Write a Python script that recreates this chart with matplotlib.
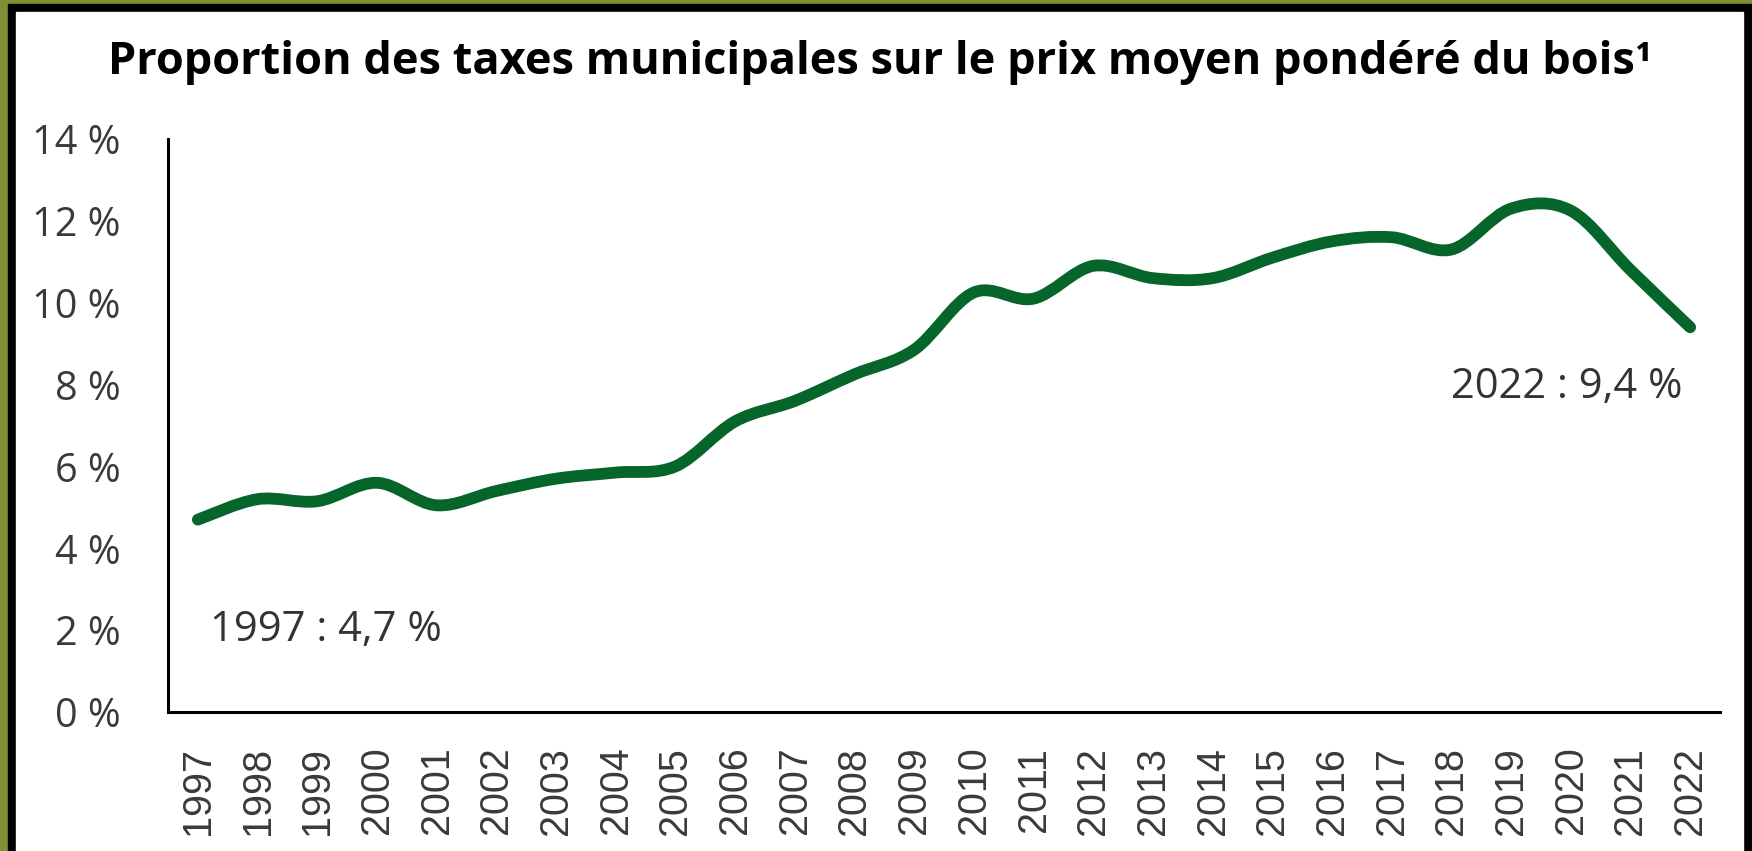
import matplotlib
matplotlib.use("Agg")
from matplotlib import pyplot as plt
from matplotlib.path import Path
from matplotlib.patches import PathPatch, Rectangle

# data
years = [str(y) for y in range(1997, 2023)]
taxes = [4.7, 5.2, 5.15, 5.6, 5.05, 5.4, 5.7, 5.85, 6.0, 7.1, 7.6, 8.25, 8.85,
         10.25, 10.1, 10.9, 10.6, 10.6, 11.1, 11.5, 11.6, 11.3, 12.3, 12.25,
         10.8, 9.4]
yticks = [0, 2, 4, 6, 8, 10, 12, 14]
ytick_labels = ["%d %%" % v for v in yticks]
title = "Proportion des taxes municipales sur le prix moyen pondéré du bois¹"
first_label = "1997 : 4,7 %"
last_label = "2022 : 9,4 %"

GREEN = "#05652b"
GREY = "#3a3a3a"

fig = plt.figure(figsize=(17.52, 8.51), dpi=100, facecolor="#7f8f32")
# black frame + white panel
fig.patches.append(Rectangle((8 / 1752, 0), 1 - 8 / 1752, 1 - 4 / 851,
                             transform=fig.transFigure, color="black", zorder=-10))
fig.patches.append(Rectangle((16 / 1752, 0), (1743 - 16) / 1752, 1 - 12 / 851,
                             transform=fig.transFigure, color="white", zorder=-9))

ax = fig.add_axes([168 / 1752, 1 - 712 / 851, (1720 - 168) / 1752, (712 - 139) / 851])
ax.set_facecolor("none")

# smoothed line (bezier through the points, like the excel "smooth line")
x = list(range(len(taxes)))
pts = list(zip(x, taxes))
verts = [pts[0]]
codes = [Path.MOVETO]
for i in range(len(pts) - 1):
    p0 = pts[max(i - 1, 0)]
    p1 = pts[i]
    p2 = pts[i + 1]
    p3 = pts[min(i + 2, len(pts) - 1)]
    c1 = (p1[0] + (p2[0] - p0[0]) / 6, p1[1] + (p2[1] - p0[1]) / 6)
    c2 = (p2[0] - (p3[0] - p1[0]) / 6, p2[1] - (p3[1] - p1[1]) / 6)
    verts += [c1, c2, p2]
    codes += [Path.CURVE4] * 3
ax.add_patch(PathPatch(Path(verts, codes), fill=False, edgecolor=GREEN,
                       linewidth=8.5, capstyle="round", joinstyle="round"))

ax.set_xlim(-0.5, len(taxes) - 0.5)
ax.set_ylim(0, 14)
ax.set_xticks(x)
ax.set_xticklabels(years, rotation=90, fontsize=28.5, family="Liberation Sans", color=GREY)
ax.set_yticks(yticks)
ax.set_yticklabels(ytick_labels, fontsize=28.5, family="Open Sans", color=GREY)
ax.tick_params(axis="x", length=0, pad=25)
ax.tick_params(axis="y", length=0, pad=34)

for s in ["top", "right"]:
    ax.spines[s].set_visible(False)
for s in ["left", "bottom"]:
    ax.spines[s].set_linewidth(2.2)
    ax.spines[s].set_color("black")

ax.text(0.2, 2.0, first_label, ha="left", va="center", fontsize=30,
        family="Open Sans", color="#333333")
ax.text(24.88, 7.94, last_label, ha="right", va="center", fontsize=30,
        family="Open Sans", color="#333333")

# title, sized to span the same width as the original
t = fig.text(880 / 1752, 1 - 74 / 851, title, ha="center", va="baseline",
             fontsize=31, family="Open Sans", weight="bold", color="black")
r = fig.canvas.get_renderer()
w = t.get_window_extent(r).width
t.set_fontsize(31 * 1543 / w)

fig.savefig("out.png", dpi=100, facecolor=fig.get_facecolor())
